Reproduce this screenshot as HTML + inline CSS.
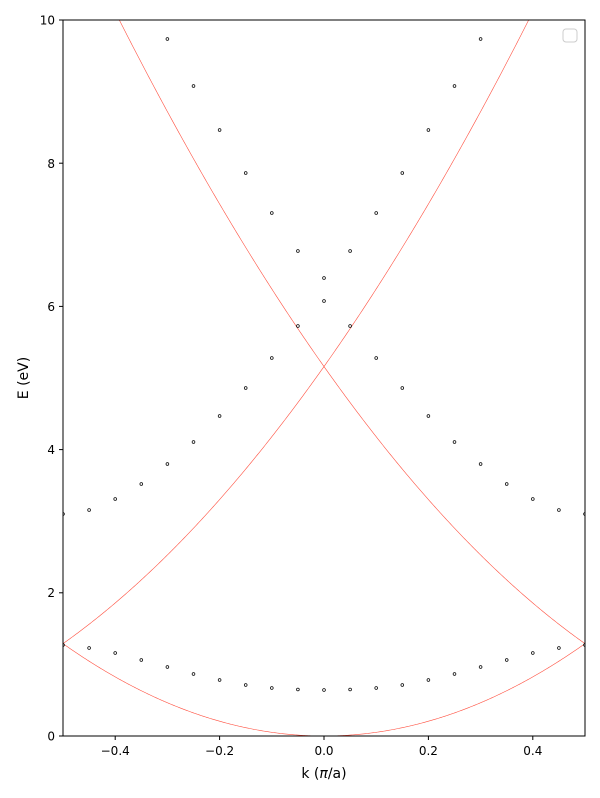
<!DOCTYPE html>
<html><head><meta charset="utf-8"><style>
body{margin:0;background:#fff}
svg{display:block;font-family:"DejaVu Sans","Liberation Sans",sans-serif}
</style></head><body>
<svg id="s" width="600" height="798" viewBox="0 0 600 798" xmlns="http://www.w3.org/2000/svg">
<defs><clipPath id="c"><rect x="63" y="20" width="522" height="716"/></clipPath></defs>
<rect width="600" height="798" fill="#fff"/>
<g id="curves" clip-path="url(#c)" fill="none" stroke="#ff5040" stroke-width="0.6"></g>
<g id="dots" clip-path="url(#c)" fill="#fff" stroke="#000" stroke-width="0.7"></g>
<rect x="63" y="20" width="522" height="716" fill="none" stroke="#000" stroke-width="1"/>
<rect x="563" y="29" width="14" height="13" rx="3" fill="#fff" stroke="#ccc" stroke-width="1"/>
<g stroke="#000" stroke-width="1">
<line x1="115.2" y1="736" x2="115.2" y2="740"/><line x1="219.6" y1="736" x2="219.6" y2="740"/>
<line x1="324" y1="736" x2="324" y2="740"/><line x1="428.4" y1="736" x2="428.4" y2="740"/>
<line x1="532.8" y1="736" x2="532.8" y2="740"/>
<line x1="59" y1="736" x2="63" y2="736"/><line x1="59" y1="592.8" x2="63" y2="592.8"/>
<line x1="59" y1="449.6" x2="63" y2="449.6"/><line x1="59" y1="306.4" x2="63" y2="306.4"/>
<line x1="59" y1="163.2" x2="63" y2="163.2"/><line x1="59" y1="20" x2="63" y2="20"/>
</g>
<g font-size="12" fill="#000" text-anchor="middle">
<text x="115.2" y="755">−0.4</text><text x="219.6" y="755">−0.2</text><text x="324" y="755">0.0</text>
<text x="428.4" y="755">0.2</text><text x="532.8" y="755">0.4</text>
<text x="324" y="778" font-size="14">k (<tspan font-style="italic">π</tspan>/a)</text>
</g>
<g font-size="12" fill="#000" text-anchor="end">
<text x="55" y="740.5">0</text><text x="55" y="597">2</text><text x="55" y="454">4</text>
<text x="55" y="311">6</text><text x="55" y="168">8</text><text x="55" y="24.5">10</text>
</g>
<text transform="translate(28,378) rotate(-90)" font-size="14" text-anchor="middle">E (eV)</text>
</svg>
<script>
var X=k=>324+522*k, Y=e=>736-71.6*e, c=5.16;
var g=document.getElementById('curves');
[0,1,-1].forEach(function(s){var d='';for(var i=0;i<=400;i++){var k=-0.5+i/400;var e=c*(k-s)*(k-s);d+=(i?'L':'M')+X(k).toFixed(2)+' '+Y(e).toFixed(2);}
var p=document.createElementNS('http://www.w3.org/2000/svg','path');p.setAttribute('d',d);g.appendChild(p);});
var b1=[690,689.5,688,685,680,674,667,660,653,648,645];
var b2=[301,326,358,388,416,442,464,484,499,510,514];
var b3=[278,251,213,173,130,86,39];
var dg=document.getElementById('dots');
function dot(x,y){var q=document.createElementNS('http://www.w3.org/2000/svg','circle');q.setAttribute('cx',x);q.setAttribute('cy',y);q.setAttribute('r',1.4);dg.appendChild(q);}
[b1,b2,b3].forEach(function(b){b.forEach(function(y,i){var k=i*0.05;dot(X(k),y);if(i)dot(X(-k),y);});});
</script>
</body></html>
